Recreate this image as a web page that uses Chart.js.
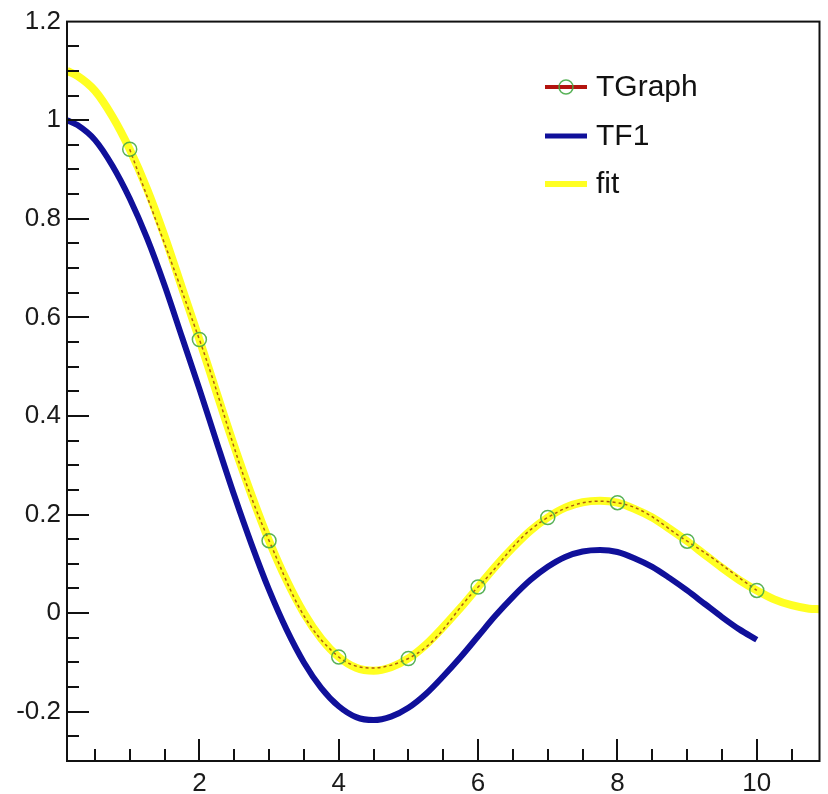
<!DOCTYPE html>
<html lang="en">
<head>
<meta charset="UTF-8">
<title>TGraph / TF1 / fit</title>
<script src="https://cdn.jsdelivr.net/npm/chart.js"></script>
<style>
  html, body { margin: 0; padding: 0; background: #fff; }
  #wrap { width: 828px; height: 794px; }
</style>
</head>
<body>
<div id="wrap"><canvas id="myChart" width="828" height="794"></canvas></div>
<script>
// curve samples
const tf1X = [0.1, 0.25, 0.5, 0.75, 1, 1.25, 1.5, 1.75, 2, 2.25, 2.5, 2.75, 3, 3.25, 3.5, 3.75,
  4, 4.25, 4.5, 4.75, 5, 5.25, 5.5, 5.75, 6, 6.25, 6.5, 6.75, 7, 7.25, 7.5, 7.75,
  8, 8.25, 8.5, 8.75, 9, 9.25, 9.5, 9.75, 10];
const tf1Y = [1.0, 0.99, 0.96, 0.908, 0.841, 0.76, 0.665, 0.56, 0.455, 0.346, 0.239, 0.139, 0.047, -0.033, -0.1, -0.152,
  -0.189, -0.211, -0.217, -0.21, -0.192, -0.164, -0.128, -0.089, -0.047, -0.005, 0.033, 0.067, 0.094, 0.114, 0.125, 0.128,
  0.124, 0.111, 0.094, 0.071, 0.046, 0.019, -0.008, -0.033, -0.054];

const fitX = [0.1, 0.25, 0.5, 0.75, 1, 1.25, 1.5, 1.75, 2, 2.25, 2.5, 2.75, 3, 3.25, 3.5, 3.75,
  4, 4.25, 4.5, 4.75, 5, 5.25, 5.5, 5.75, 6, 6.25, 6.5, 6.75, 7, 7.25, 7.5, 7.75,
  8, 8.25, 8.5, 8.75, 9, 9.25, 9.5, 9.75, 10, 10.25, 10.5, 10.75, 10.9];
const fitY = [1.1, 1.09, 1.06, 1.008, 0.941, 0.86, 0.765, 0.66, 0.555, 0.446, 0.339, 0.239, 0.147, 0.067, 0.0, -0.052,
  -0.089, -0.111, -0.117, -0.11, -0.092, -0.064, -0.028, 0.011, 0.053, 0.095, 0.133, 0.167, 0.194, 0.214, 0.225, 0.228,
  0.224, 0.211, 0.194, 0.171, 0.146, 0.119, 0.092, 0.067, 0.046, 0.028, 0.016, 0.009, 0.008];

const graphX = [1, 2, 3, 4, 5, 6, 7, 8, 9, 10];
const graphY = [0.941, 0.555, 0.147, -0.089, -0.092, 0.053, 0.194, 0.224, 0.146, 0.046];

const legendLabels = ['TGraph', 'TF1', 'fit'];
const xTickLabels = [2, 4, 6, 8, 10];
const yTickLabels = [-0.2, 0, 0.2, 0.4, 0.6, 0.8, 1, 1.2];

const RED = '#b3140f';
const BLUE = '#10109a';
const YELLOW = '#ffff22';
const MARK = 'rgba(70,170,70,0.9)';
const FONT = '"Liberation Sans", Arial, sans-serif';

function pts(xs, ys) {
    return xs.map((x, i) => ({ x: x, y: ys[i] }));
}

function isMajor(v, arr) {
    return arr.some(t => Math.abs(t - v) < 1e-6);
}

// ROOT style frame, inward ticks and legend
const rootFrame = {
    id: 'rootFrame',
    beforeDraw(chart) {
        const ctx = chart.ctx;
        ctx.save();
        ctx.fillStyle = '#fff';
        ctx.fillRect(0, 0, chart.width, chart.height);
        ctx.restore();
    },
    afterDraw(chart) {
        const ctx = chart.ctx;
        const a = chart.chartArea;
        const xs = chart.scales.x, ys = chart.scales.y;
        ctx.save();
        ctx.strokeStyle = '#111';
        ctx.lineWidth = 2;
        ctx.strokeRect(a.left, a.top, a.right - a.left, a.bottom - a.top);

        ctx.beginPath();
        for (let v = 0.5; v < 10.9; v += 0.5) {
            const px = Math.round(xs.getPixelForValue(v));
            const len = isMajor(v, xTickLabels) ? 22 : 12;
            ctx.moveTo(px, a.bottom);
            ctx.lineTo(px, a.bottom - len);
        }
        for (let k = -5; k <= 23; k++) {
            const v = k * 0.05;
            const py = Math.round(ys.getPixelForValue(v));
            const len = isMajor(v, yTickLabels) ? 22 : 12;
            ctx.moveTo(a.left, py);
            ctx.lineTo(a.left + len, py);
        }
        ctx.stroke();

        // legend
        const lx0 = 545, lx1 = 587, tx = 596;
        const rows = [87, 136, 184];
        ctx.font = '30px ' + FONT;
        ctx.textBaseline = 'middle';
        ctx.fillStyle = '#111';
        ctx.lineCap = 'butt';
        // TGraph
        ctx.strokeStyle = RED; ctx.lineWidth = 4;
        ctx.beginPath(); ctx.moveTo(lx0, rows[0]); ctx.lineTo(lx1, rows[0]); ctx.stroke();
        ctx.strokeStyle = MARK; ctx.lineWidth = 1.5;
        ctx.beginPath(); ctx.arc((lx0 + lx1) / 2, rows[0], 7, 0, Math.PI * 2); ctx.stroke();
        // TF1
        ctx.strokeStyle = BLUE; ctx.lineWidth = 5;
        ctx.beginPath(); ctx.moveTo(lx0, rows[1]); ctx.lineTo(lx1, rows[1]); ctx.stroke();
        // fit
        ctx.strokeStyle = YELLOW; ctx.lineWidth = 6;
        ctx.beginPath(); ctx.moveTo(lx0, rows[2]); ctx.lineTo(lx1, rows[2]); ctx.stroke();
        legendLabels.forEach((t, i) => ctx.fillText(t, tx, rows[i] + 1));
        ctx.restore();
    }
};

const ctx = document.getElementById('myChart').getContext('2d');
new Chart(ctx, {
    type: 'line',
    data: {
        datasets: [
            {
                label: 'markers',
                data: pts(graphX, graphY),
                showLine: false,
                pointRadius: 7,
                pointBorderWidth: 1.5,
                pointBorderColor: MARK,
                pointBackgroundColor: 'rgba(0,0,0,0)'
            },
            {
                label: 'TGraph',
                data: pts(graphX, graphY),
                borderColor: 'rgba(150,40,10,0.75)',
                borderWidth: 1.5,
                borderDash: [3, 3],
                pointRadius: 0,
                tension: 0.4
            },
            {
                label: 'fit',
                data: pts(fitX, fitY),
                borderColor: YELLOW,
                borderWidth: 8,
                pointRadius: 0,
                cubicInterpolationMode: 'monotone'
            },
            {
                label: 'TF1',
                data: pts(tf1X, tf1Y),
                borderColor: BLUE,
                borderWidth: 6,
                pointRadius: 0,
                cubicInterpolationMode: 'monotone'
            }
        ]
    },
    options: {
        responsive: false,
        animation: false,
        devicePixelRatio: 1,
        layout: { padding: { left: 0, right: 7, top: 20, bottom: 0 } },
        plugins: { legend: { display: false }, tooltip: { enabled: false } },
        scales: {
            x: {
                type: 'linear',
                min: 0.1,
                max: 10.9,
                grid: { display: false, tickLength: 0 },
                border: { display: false },
                afterFit: s => { s.height = 33; },
                afterBuildTicks: s => { s.ticks = xTickLabels.map(v => ({ value: v })); },
                ticks: {
                    autoSkip: false,
                    maxRotation: 0,
                    padding: 7,
                    color: '#1a1a1a',
                    font: { family: FONT, size: 26 },
                    callback: v => String(v)
                }
            },
            y: {
                min: -0.3,
                max: 1.2,
                grid: { display: false, tickLength: 0 },
                border: { display: false },
                afterFit: s => { s.width = 67; },
                afterBuildTicks: s => { s.ticks = yTickLabels.map(v => ({ value: v })); },
                ticks: {
                    autoSkip: false,
                    padding: 6,
                    color: '#1a1a1a',
                    font: { family: FONT, size: 26 },
                    callback: v => String(Math.round(v * 10) / 10)
                }
            }
        }
    },
    plugins: [rootFrame]
});
</script>
</body>
</html>
